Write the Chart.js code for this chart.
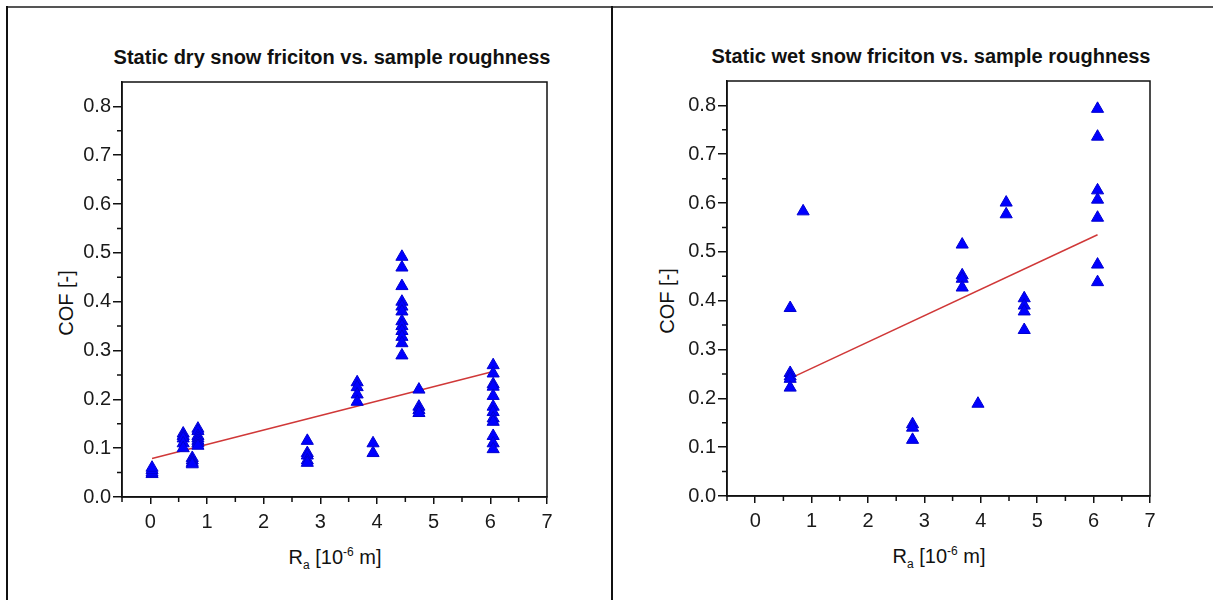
<!DOCTYPE html>
<html>
<head>
<meta charset="utf-8">
<script src="https://cdn.jsdelivr.net/npm/chart.js@4.4.1/dist/chart.umd.min.js"></script>
<style>
  body { margin: 0; background: #fff; width: 1213px; height: 600px; position: relative; overflow: hidden;
         font-family: "Liberation Sans", Arial, sans-serif; color: #111; }
  .line { position: absolute; }
  canvas { position: absolute; }
  .title { position: absolute; font-weight: bold; font-size: 20px; white-space: nowrap; transform: translate(-50%, -50%); }
  .xtitle { position: absolute; font-size: 20px; white-space: nowrap; transform: translate(-50%, -50%); }
  .xtitle sub { font-size: 12px; vertical-align: -5px; }
  .xtitle sup { font-size: 12px; vertical-align: 8px; }
  .ytitle { position: absolute; font-size: 20px; white-space: nowrap; transform: translate(-50%, -50%) rotate(-90deg); }
</style>
</head>
<body>
<div class="line" style="left:7px; top:6px; width:1206px; height:2px; background:#555;"></div>
<div class="line" style="left:6px; top:6px; width:2px; height:594px; background:#111;"></div>
<div class="line" style="left:611px; top:6px; width:2px; height:594px; background:#111;"></div>

<div class="title" style="left:332px; top:57px;">Static dry snow friciton vs. sample roughness</div>
<div class="title" style="left:931px; top:56px;">Static wet snow friciton vs. sample roughness</div>
<div class="ytitle" style="left:66px; top:303px;">COF [-]</div>
<div class="ytitle" style="left:667px; top:301px;">COF [-]</div>
<div class="xtitle" style="left:335px; top:558px;">R<sub>a</sub> [10<sup>-6</sup> m]</div>
<div class="xtitle" style="left:939px; top:557px;">R<sub>a</sub> [10<sup>-6</sup> m]</div>

<canvas id="dry" width="600" height="590" style="left:10px; top:10px;"></canvas>
<canvas id="wet" width="599" height="590" style="left:614px; top:10px;"></canvas>

<script>
// dry snow, R_a vs COF
const dryRa = [
  0.03, 0.03, 0.03, 0.03,
  0.58, 0.58, 0.58, 0.58, 0.58,
  0.74, 0.74, 0.74, 0.74,
  0.84, 0.84, 0.84, 0.84, 0.84, 0.84, 0.84,
  2.77, 2.77, 2.77, 2.77, 2.77,
  3.65, 3.65, 3.65, 3.65,
  3.93, 3.93,
  4.44, 4.44, 4.44, 4.44, 4.44, 4.44, 4.44, 4.44, 4.44, 4.44, 4.44, 4.44,
  4.74, 4.74, 4.74, 4.74,
  6.05, 6.05, 6.05, 6.05, 6.05, 6.05, 6.05, 6.05, 6.05, 6.05, 6.05, 6.05
];
const dryCof = [
  0.047, 0.05, 0.055, 0.06,
  0.13, 0.125, 0.12, 0.11, 0.10,
  0.08, 0.075, 0.07, 0.067,
  0.14, 0.135, 0.125, 0.12, 0.115, 0.11, 0.105,
  0.115, 0.09, 0.085, 0.075, 0.07,
  0.235, 0.225, 0.21, 0.195,
  0.11, 0.09,
  0.492, 0.47, 0.432, 0.40, 0.39, 0.38, 0.36, 0.35, 0.34, 0.328, 0.315, 0.29,
  0.22, 0.185, 0.178, 0.172,
  0.270, 0.253, 0.231, 0.226, 0.207, 0.185, 0.174, 0.161, 0.154, 0.125, 0.110, 0.098
];

// wet snow
const wetRa = [
  0.62, 0.62, 0.62, 0.62, 0.62,
  0.85,
  2.79, 2.79, 2.79,
  3.67, 3.67, 3.67, 3.67,
  3.95,
  4.45, 4.45,
  4.77, 4.77, 4.77, 4.77,
  6.07, 6.07, 6.07, 6.07, 6.07, 6.07, 6.07
];
const wetCof = [
  0.385, 0.252, 0.245, 0.24, 0.222,
  0.583,
  0.147, 0.14, 0.115,
  0.515, 0.452, 0.445, 0.427,
  0.189,
  0.601, 0.577,
  0.405, 0.39, 0.378, 0.34,
  0.793, 0.736, 0.626, 0.607, 0.57, 0.474, 0.438
];

// linear fits (end points)
const dryFitRa = [0.03, 6.05];
const dryFitCof = [0.079, 0.257];
const wetFitRa = [0.62, 6.07];
const wetFitCof = [0.241, 0.535];

const xTicks = [0, 1, 2, 3, 4, 5, 6, 7];
const yTicks = [0, 0.1, 0.2, 0.3, 0.4, 0.5, 0.6, 0.7, 0.8];

function pairs(xs, ys) {
  return xs.map((x, i) => ({ x: x, y: ys[i] }));
}

// box round the plot + short minor ticks between the majors
const framePlugin = {
  id: "frame",
  afterDraw(chart) {
    const ctx = chart.ctx;
    const a = chart.chartArea;
    const xs = chart.scales.x;
    const ys = chart.scales.y;
    ctx.save();
    ctx.strokeStyle = "#111";
    ctx.lineWidth = 1.5;
    ctx.strokeRect(a.left, a.top, a.right - a.left, a.bottom - a.top);
    ctx.beginPath();
    for (let v = -0.5; v < 7; v += 1) {
      const px = xs.getPixelForValue(v);
      ctx.moveTo(px, a.bottom);
      ctx.lineTo(px, a.bottom + 5);
    }
    for (let v = 0.05; v < 0.8; v += 0.1) {
      const py = ys.getPixelForValue(v);
      ctx.moveTo(a.left, py);
      ctx.lineTo(a.left - 5, py);
    }
    ctx.stroke();
    ctx.restore();
  }
};

const tickFont = { family: "'Liberation Sans', Arial, sans-serif", size: 20 };

function makeChart(id, pts, fit, yWidth, xHeight, padTop, padRight) {
  const ctx = document.getElementById(id).getContext("2d");
  return new Chart(ctx, {
    type: "scatter",
    data: {
      datasets: [
        {
          data: pts,
          pointStyle: "triangle",
          pointRadius: 7,
          backgroundColor: "#0000ff",
          borderColor: "#0000d0",
          borderWidth: 1
        },
        {
          type: "line",
          data: fit,
          borderColor: "#d03838",
          borderWidth: 1.5,
          pointRadius: 0,
          showLine: true,
          fill: false
        }
      ]
    },
    options: {
      responsive: false,
      animation: false,
      events: [],
      layout: { padding: { top: padTop, right: padRight, left: 0, bottom: 0 } },
      plugins: { legend: { display: false }, tooltip: { enabled: false }, title: { display: false } },
      scales: {
        x: {
          type: "linear",
          min: -0.5,
          max: 7,
          afterBuildTicks: s => { s.ticks = xTicks.map(v => ({ value: v })); },
          afterFit: s => { s.height = xHeight; },
          ticks: { color: "#1a1a1a", font: tickFont, padding: 6, maxRotation: 0 },
          grid: { drawOnChartArea: false, drawTicks: true, tickLength: 7, color: "#111", lineWidth: 1.5 },
          border: { color: "#111", width: 1.5 }
        },
        y: {
          type: "linear",
          min: 0,
          max: 0.85,
          afterBuildTicks: s => { s.ticks = yTicks.map(v => ({ value: v })); },
          afterFit: s => { s.width = yWidth; },
          ticks: { color: "#1a1a1a", font: tickFont, padding: 2,
                   callback: v => v.toFixed(1) },
          grid: { drawOnChartArea: false, drawTicks: true, tickLength: 9, color: "#111", lineWidth: 1.5 },
          border: { color: "#111", width: 1.5 }
        }
      }
    },
    plugins: [framePlugin]
  });
}

makeChart("dry", pairs(dryRa, dryCof), pairs(dryFitRa, dryFitCof), 112, 103, 72, 63);
makeChart("wet", pairs(wetRa, wetCof), pairs(wetFitRa, wetFitCof), 113, 104, 71, 63);
</script>
</body>
</html>
